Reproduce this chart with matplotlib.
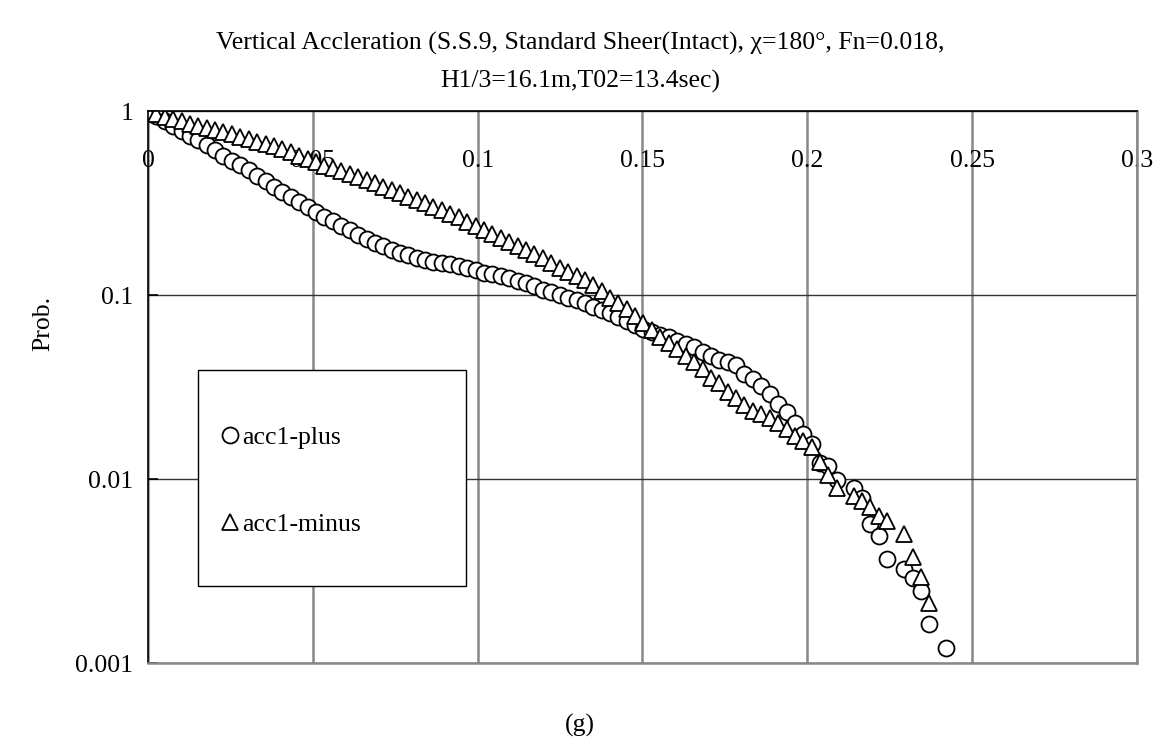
import matplotlib
matplotlib.use("Agg")
import matplotlib.pyplot as plt
from matplotlib.patches import Rectangle

plt.rcParams["font.family"] = ["Liberation Serif", "DejaVu Serif"]

# acceleration bins (g) and exceedance probability, positive peaks
x_plus = [0.0, 0.0025, 0.0051, 0.0076, 0.0102, 0.0127, 0.0153, 0.0178, 0.0204, 0.0229,
          0.0255, 0.0280, 0.0306, 0.0331, 0.0357, 0.0382, 0.0408, 0.0433, 0.0459, 0.0484,
          0.0510, 0.0535, 0.0561, 0.0586, 0.0612, 0.0637, 0.0663, 0.0688, 0.0713, 0.0739,
          0.0764, 0.0790, 0.0815, 0.0841, 0.0866, 0.0892, 0.0917, 0.0943, 0.0968, 0.0994,
          0.1019, 0.1045, 0.1070, 0.1096, 0.1121, 0.1147, 0.1172, 0.1198, 0.1223, 0.1249,
          0.1274, 0.1300, 0.1325, 0.1350, 0.1376, 0.1401, 0.1427, 0.1452, 0.1478, 0.1503,
          0.1529, 0.1554, 0.1580, 0.1605, 0.1631, 0.1656, 0.1682, 0.1707, 0.1733, 0.1758,
          0.1784, 0.1809, 0.1835, 0.1860, 0.1886, 0.1911, 0.1937, 0.1962, 0.1987, 0.2013,
          0.2038, 0.2064, 0.2089, 0.2140, 0.2166, 0.2191, 0.2217, 0.2242, 0.2293, 0.2319,
          0.2344, 0.2370, 0.2421]
p_plus = [1.0, 0.939, 0.882, 0.828, 0.778, 0.731, 0.695, 0.653, 0.613, 0.569,
          0.534, 0.508, 0.477, 0.442, 0.415, 0.385, 0.362, 0.340, 0.319, 0.300,
          0.2815, 0.2644, 0.2515, 0.2362, 0.2246, 0.2123, 0.2019, 0.1920, 0.1837, 0.1758,
          0.1694, 0.1642, 0.1591, 0.1551, 0.1513, 0.1485, 0.1466, 0.1430, 0.1403, 0.1360,
          0.1318, 0.1293, 0.1261, 0.1230, 0.1192, 0.1155, 0.1113, 0.1071, 0.1032, 0.1000,
          0.0969, 0.0939, 0.0904, 0.0866, 0.0834, 0.0798, 0.0763, 0.0726, 0.0691, 0.0657,
          0.0632, 0.0609, 0.0590, 0.0565, 0.0544, 0.0521, 0.0492, 0.0468, 0.0445, 0.0430,
          0.0418, 0.0373, 0.0348, 0.0321, 0.0290, 0.0256, 0.0232, 0.0202, 0.0176, 0.0155,
          0.01227, 0.01177, 0.00988, 0.00897, 0.00788, 0.00569, 0.00489, 0.00366, 0.00323, 0.00289,
          0.00245, 0.00162, 0.00120]

# negative peaks
x_minus = [0.0, 0.0025, 0.0051, 0.0076, 0.0102, 0.0127, 0.0153, 0.0178, 0.0204, 0.0229,
           0.0255, 0.0280, 0.0306, 0.0331, 0.0357, 0.0382, 0.0408, 0.0433, 0.0459, 0.0484,
           0.0510, 0.0535, 0.0561, 0.0586, 0.0612, 0.0637, 0.0663, 0.0688, 0.0713, 0.0739,
           0.0764, 0.0790, 0.0815, 0.0841, 0.0866, 0.0892, 0.0917, 0.0943, 0.0968, 0.0994,
           0.1019, 0.1045, 0.1070, 0.1096, 0.1121, 0.1147, 0.1172, 0.1198, 0.1223, 0.1249,
           0.1274, 0.1300, 0.1325, 0.1350, 0.1376, 0.1401, 0.1427, 0.1452, 0.1478, 0.1503,
           0.1529, 0.1554, 0.1580, 0.1605, 0.1631, 0.1656, 0.1682, 0.1707, 0.1733, 0.1758,
           0.1784, 0.1809, 0.1835, 0.1860, 0.1886, 0.1911, 0.1937, 0.1962, 0.1987, 0.2013,
           0.2038, 0.2064, 0.2089, 0.2140, 0.2166, 0.2191, 0.2217, 0.2242, 0.2293, 0.2319,
           0.2344, 0.2370]
p_minus = [1.0, 0.969, 0.933, 0.910, 0.882, 0.855, 0.834, 0.813, 0.788, 0.768,
           0.749, 0.726, 0.704, 0.682, 0.665, 0.645, 0.625, 0.598, 0.572, 0.551,
           0.527, 0.505, 0.489, 0.474, 0.456, 0.440, 0.423, 0.405, 0.388, 0.371,
           0.357, 0.342, 0.329, 0.315, 0.302, 0.289, 0.276, 0.2644, 0.2499, 0.2377,
           0.2260, 0.2150, 0.2032, 0.1932, 0.1837, 0.1758, 0.1673, 0.1581, 0.1485, 0.1403,
           0.1334, 0.1269, 0.1200, 0.1127, 0.1045, 0.0969, 0.0910, 0.0844, 0.0773, 0.0704,
           0.0649, 0.0594, 0.0547, 0.0508, 0.0468, 0.0430, 0.0396, 0.0356, 0.0331, 0.0298,
           0.0275, 0.0253, 0.0235, 0.0225, 0.0214, 0.0201, 0.0187, 0.0172, 0.0161, 0.0149,
           0.01238, 0.01051, 0.00893, 0.00808, 0.00759, 0.00708, 0.00629, 0.00590, 0.00505, 0.00378,
           0.00294, 0.00211]

x_ticks = [0, 0.05, 0.1, 0.15, 0.2, 0.25, 0.3]
x_tick_labels = ["0", "0.05", "0.1", "0.15", "0.2", "0.25", "0.3"]
y_ticks = [0.001, 0.01, 0.1, 1]
y_tick_labels = ["0.001", "0.01", "0.1", "1"]

fs = 18.5

fig = plt.figure(figsize=(11.65, 7.4), dpi=100)
ax = fig.add_axes([0.127, 0.104, 0.849, 0.746])

ax.set_yscale("log")
ax.set_xlim(0, 0.3)
ax.set_ylim(0.001, 1)

# grid: dark horizontal decades, grey vertical lines
ax.set_xticks(x_ticks)
ax.set_xticklabels(x_tick_labels)
ax.set_yticks(y_ticks)
ax.set_yticklabels(y_tick_labels)
ax.yaxis.set_minor_locator(matplotlib.ticker.NullLocator())
ax.grid(axis="y", color="#333333", linewidth=1.0)
ax.grid(axis="x", color="#888888", linewidth=1.8)
ax.set_axisbelow(True)

ax.spines["left"].set_color("black")
ax.spines["top"].set_color("black")
ax.spines["left"].set_linewidth(1.2)
ax.spines["top"].set_linewidth(1.2)
ax.spines["bottom"].set_color("#888888")
ax.spines["right"].set_color("#888888")
ax.spines["bottom"].set_linewidth(1.8)
ax.spines["right"].set_linewidth(1.8)

# x labels sit just under the axis line at p = 1
ax.tick_params(axis="x", bottom=False, labelbottom=False, top=True, labeltop=True,
               length=0, pad=-44, labelsize=fs)
ax.tick_params(axis="y", direction="in", length=7, width=1.2, labelsize=fs, pad=10.5)

ax.plot(x_plus, p_plus, linestyle="none", marker="o", markersize=11.5,
        markerfacecolor="white", markeredgecolor="black", markeredgewidth=1.3,
        label="acc1-plus")
ax.plot(x_minus, p_minus, linestyle="none", marker="^", markersize=12,
        markerfacecolor="white", markeredgecolor="black", markeredgewidth=1.3,
        label="acc1-minus")

fig.text(0.498, 0.9155,
         "Vertical Accleration (S.S.9, Standard Sheer(Intact), \u03c7=180\u00b0, Fn=0.018,\n"
         "H1/3=16.1m,T02=13.4sec)",
         ha="center", va="center", fontsize=fs, linespacing=1.85, multialignment="center")
ax.set_ylabel("Prob.", fontsize=fs)
ax.yaxis.set_label_coords(-0.095, 0.616)
ax.set_xlabel("(g)", fontsize=fs)
ax.xaxis.set_label_position("bottom")
ax.xaxis.set_label_coords(0.437, -0.0924)

# legend box
ax.add_patch(Rectangle((0.0506, 0.1395), 0.271, 0.391, transform=ax.transAxes,
                       facecolor="white", edgecolor="black", linewidth=1.0, zorder=4))
leg = ax.legend(loc="center left", bbox_to_anchor=(0.0738, 0.3295), frameon=False,
                fontsize=fs, handlelength=0.7, handletextpad=0.12, labelspacing=2.5,
                borderpad=0, borderaxespad=0)
leg.set_zorder(5)

fig.savefig("out.png", dpi=100)
